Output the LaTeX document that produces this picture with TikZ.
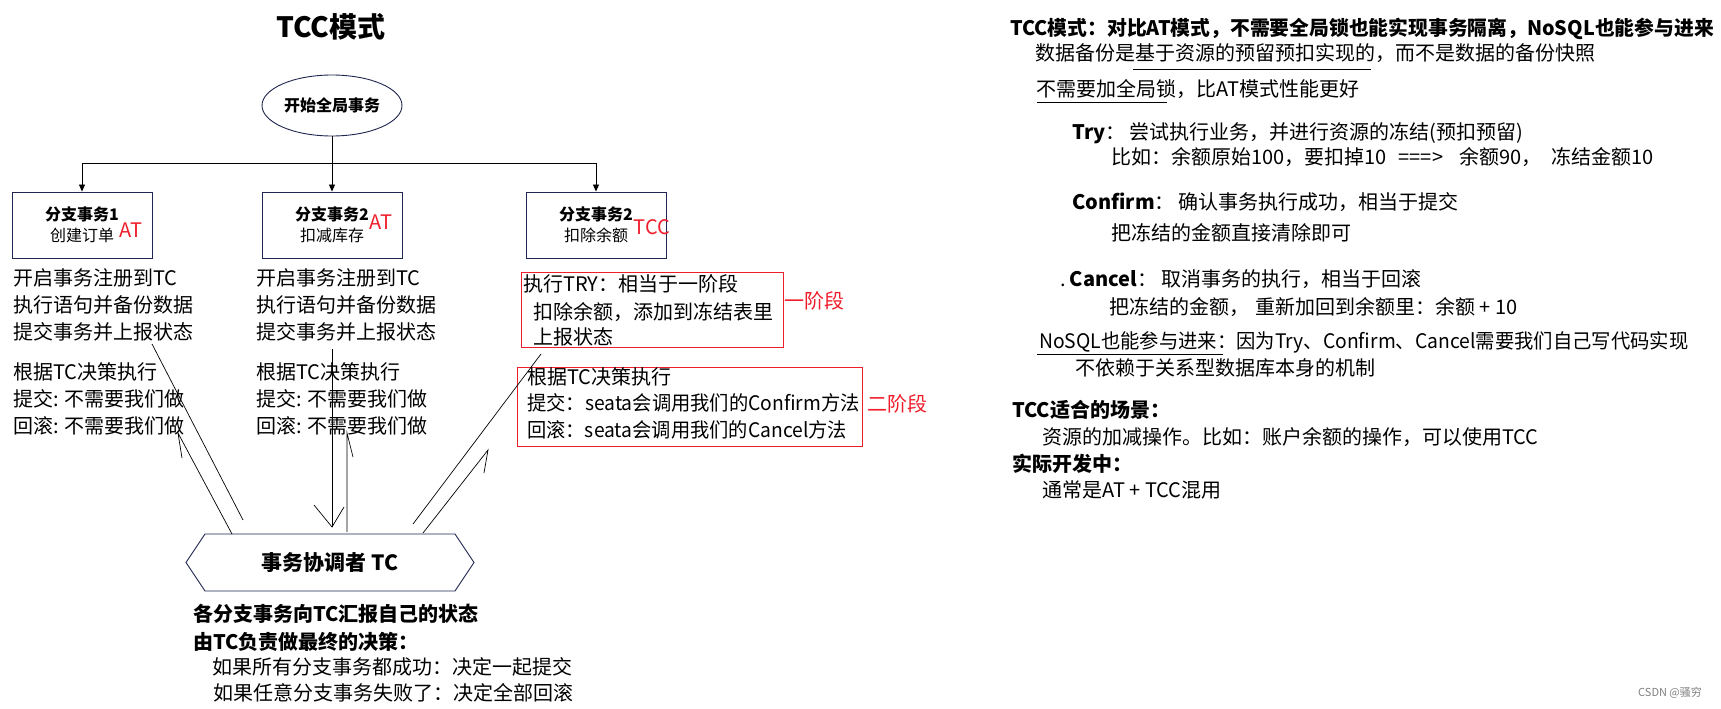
\documentclass[tikz,border=0pt]{standalone}
\usepackage{fontspec}
\setmainfont{Noto Sans CJK SC}
\usetikzlibrary{arrows.meta,shapes.geometric}
\definecolor{navy}{HTML}{1F2650}
\definecolor{tred}{HTML}{F01E2C}
\begin{document}
\begin{tikzpicture}[x=1pt,y=-1pt,
  txt/.style={anchor=west,inner sep=0pt,font=\fontsize{20}{24}\selectfont,text height=17.6pt,text depth=2.4pt},
  btxt/.style={txt,font=\fontsize{20}{24}\selectfont\bfseries},
  branch/.style={draw=navy,line width=0.9pt,minimum width=140pt,minimum height=66pt,inner sep=0pt,align=center,font=\fontsize{16}{21}\selectfont},
  redlbl/.style={inner sep=0pt,text=tred,font=\fontsize{20}{24}\selectfont},
  redbox/.style={draw=tred,line width=0.9pt},
  conn/.style={line width=0.7pt},
  tip/.style={-{Triangle[length=7pt,width=6pt]},line width=0.8pt},
]
\fill[white] (0,0) rectangle (1721,709);
\useasboundingbox (0,0) rectangle (1721,709);

% title
\node[inner sep=0pt,font=\fontsize{28}{32}\selectfont\bfseries] (title) at (331,27) {TCC模式};

% start ellipse
\node[ellipse,draw=navy,line width=0.9pt,minimum width=140pt,minimum height=61pt,inner sep=0pt,font=\fontsize{16}{20}\selectfont\bfseries] (start) at (332,105.5) {开始全局事务};

% branch boxes
\node[branch] (b1) at (82,225) {\textbf{分支事务1}\\创建订单};
\node[branch] (b2) at (332,225) {\textbf{分支事务2}\\扣减库存};
\node[branch] (b3) at (596,225) {\textbf{分支事务2}\\扣除余额};
\node[redlbl] (at1) at (131,230) {AT};
\node[redlbl] (at2) at (381,222) {AT};
\node[redlbl] (tcc3) at (652,227) {TCC};

% tree connectors
\coordinate (j) at (332,163);
\draw[line width=0.8pt] (start.south) -- (j);
\draw[line width=0.8pt] (j -| b1.north) -- (j -| b3.north);
\draw[tip] (j -| b1.north) -- (b1.north);
\draw[tip] (j) -- (b2.north);
\draw[tip] (j -| b3.north) -- (b3.north);

% left column
\node[txt] (a1) at (13,278) {开启事务注册到TC};
\node[txt] (a2) at (13,305) {执行语句并备份数据};
\node[txt] (a3) at (13,332) {提交事务并上报状态};
\node[txt] (a4) at (13,372) {根据TC决策执行};
\node[txt] (a5) at (13,399) {提交: 不需要我们做};
\node[txt] (a6) at (13,426) {回滚: 不需要我们做};

% middle column
\node[txt] (m1) at (256,278) {开启事务注册到TC};
\node[txt] (m2) at (256,305) {执行语句并备份数据};
\node[txt] (m3) at (256,332) {提交事务并上报状态};
\node[txt] (m4) at (256,372) {根据TC决策执行};
\node[txt] (m5) at (256,399) {提交: 不需要我们做};
\node[txt] (m6) at (256,426) {回滚: 不需要我们做};

% TCC column
\draw[redbox] (521,272) rectangle (783,347);
\node[txt] (r1) at (523,284) {执行TRY：相当于一阶段};
\node[txt] (r2) at (533,312) {扣除余额，添加到冻结表里};
\node[txt] (r3) at (533,337) {上报状态};
\node[redlbl,anchor=west] (p1) at (784,301) {一阶段};
\draw[redbox] (517,367) rectangle (862,446);
\node[txt] (r4) at (527,377) {根据TC决策执行};
\node[txt] (r5) at (527,403) {\scalebox{0.965}[1]{提交：seata会调用我们的Confirm方法}};
\node[txt] (r6) at (527,430) {\scalebox{0.963}[1]{回滚：seata会调用我们的Cancel方法}};
\node[redlbl,anchor=west] (p2) at (867,404) {二阶段};

% coordinator hexagon
\node[inner sep=0pt,font=\fontsize{21}{24}\selectfont\bfseries] (tc) at (330,562.5) {事务协调者 TC};
\draw[navy,line width=0.9pt] (186,562.5) -- (205,534) -- (455,534) -- (474,562.5) -- (455,591) -- (205,591) -- cycle;

% connectors between columns and coordinator
\coordinate (c1a) at (152,344); \coordinate (c1b) at (243,520);
\coordinate (c2a) at (232,534); \coordinate (c2b) at (178,433); \coordinate (c2h) at (182,458);
\coordinate (c3a) at (332,349); \coordinate (c3b) at (332,527); \coordinate (c3l) at (314,505); \coordinate (c3r) at (344,507);
\coordinate (c4a) at (347,532); \coordinate (c4b) at (347,433); \coordinate (c4h) at (353,457);
\coordinate (c5a) at (541,354); \coordinate (c5b) at (413,524);
\coordinate (c6a) at (423,533); \coordinate (c6b) at (488,450); \coordinate (c6h) at (484,473);
\draw[conn] (c1a) -- (c1b);
\draw[conn] (c2a) -- (c2b) -- (c2h);
\draw[conn] (c3a) -- (c3b);
\draw[conn] (c3l) -- (c3b) -- (c3r);
\draw[conn] (c4a) -- (c4b) -- (c4h);
\draw[conn] (c5a) -- (c5b);
\draw[conn] (c6a) -- (c6b) -- (c6h);

% text below coordinator
\node[btxt] (d1) at (193,614) {各分支事务向TC汇报自己的状态};
\node[btxt] (d2) at (193,642) {由TC负责做最终的决策：};
\node[txt] (d3) at (212,667) {如果所有分支事务都成功：决定一起提交};
\node[txt] (d4) at (213,693) {如果任意分支事务失败了：决定全部回滚};

% right side notes
\node[btxt] (n1) at (1010,28) {\scalebox{0.99}[1]{TCC模式：对比AT模式，不需要全局锁也能实现事务隔离，NoSQL也能参与进来}};
\node[txt] (n2) at (1035,53) {数据备份是基于资源的预留预扣实现的，而不是数据的备份快照};
\draw[line width=0.9pt] (1133,69) -- (1371,69);
\node[txt] (n3) at (1036,89) {不需要加全局锁，比AT模式性能更好};
\draw[line width=0.9pt] (1037,102) -- (1167,102);
\node[txt] (n4) at (1072,132) {\textbf{Try}：\hspace{4pt}尝试执行业务，并进行资源的冻结(预扣预留)};
\node[txt] (n5) at (1111,157) {比如：余额原始100，要扣掉10\hspace{12pt}===>\hspace{16pt}余额90，\hspace{10pt}冻结金额10};
\node[txt] (n6) at (1072,202) {\textbf{Confirm}：\hspace{4pt}确认事务执行成功，相当于提交};
\node[txt] (n7) at (1111,233) {把冻结的金额直接清除即可};
\node[txt] (n8) at (1060,279) {.\hspace{4pt}\textbf{Cancel}：\hspace{4pt}取消事务的执行，相当于回滚};
\node[txt] (n9) at (1109,307) {把冻结的金额，\hspace{6pt}重新加回到余额里：余额 + 10};
\node[txt] (n10) at (1039,341) {\scalebox{0.966}[1]{NoSQL也能参与进来：因为Try、Confirm、Cancel需要我们自己写代码实现}};
\draw[line width=0.9pt] (1037,354) -- (1223,354);
\node[txt] (n11) at (1075,368) {不依赖于关系型数据库本身的机制};
\node[btxt] (n12) at (1012,410) {TCC适合的场景：};
\node[txt] (n13) at (1042,437) {资源的加减操作。比如：账户余额的操作，可以使用TCC};
\node[btxt] (n14) at (1012,464) {实际开发中：};
\node[txt] (n15) at (1042,490) {通常是AT + TCC混用};

% watermark
\node[anchor=west,inner sep=0pt,text=gray,font=\fontsize{11}{13}\selectfont] (wm) at (1638,693) {CSDN @骚穷};
\end{tikzpicture}
\end{document}
